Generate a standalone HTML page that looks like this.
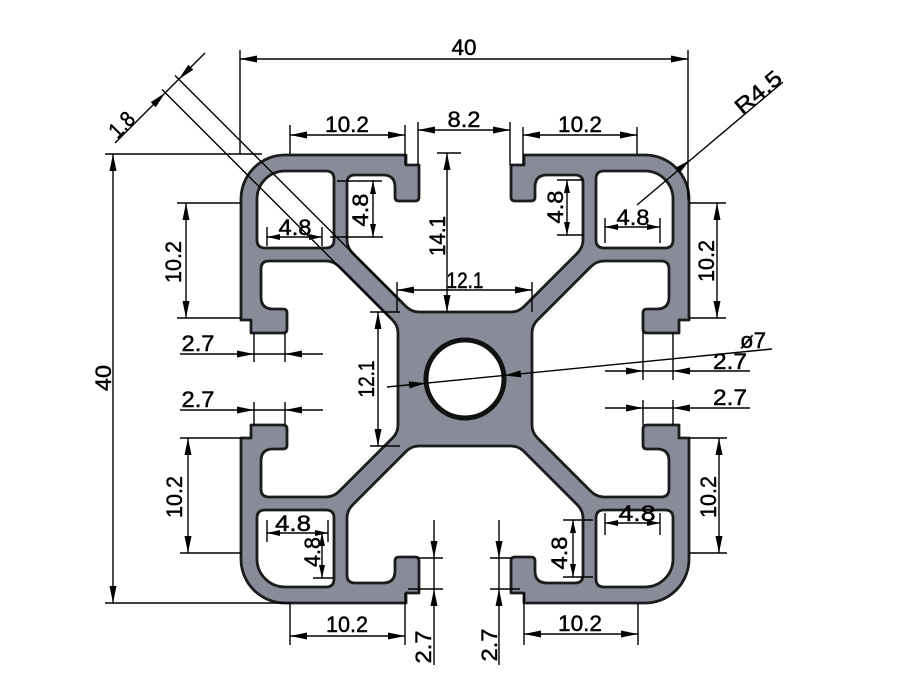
<!DOCTYPE html>
<html><head><meta charset="utf-8"><style>
html,body{margin:0;padding:0;background:#fff;}
svg{display:block;}
text{font-family:"Liberation Sans",sans-serif;font-size:22px;fill:#000;stroke:#000;stroke-width:0.45px;}
</style></head><body>
<svg width="900" height="675" viewBox="0 0 900 675" xmlns="http://www.w3.org/2000/svg">
<defs>
<path id="qf" d="M0 -67 L-46 -67 Q-53.5 -67 -59 -72.5 L-112 -125.5 Q-118 -131.5 -118 -139 L-118 -196 Q-118 -204 -110 -204 L-82 -204 Q-70 -204 -70 -192 L-70 -182 Q-70 -178 -66 -178 L-50 -178 Q-46 -178 -46 -182 L-46 -214 L-59 -214 L-59 -224 L-180 -224 A44 44 0 0 0 -224 -180 L-224 -59 L-214 -59 L-214 -46 L-182 -46 Q-178 -46 -178 -50 L-178 -66 Q-178 -70 -182 -70 L-192 -70 Q-204 -70 -204 -82 L-204 -110 Q-204 -118 -196 -118 L-139 -118 Q-131.5 -118 -125.5 -112 L-72.5 -59 Q-67 -53.5 -67 -46 L-67 0 L-67 2 L2 2 L2 -67 Z"/>
<path id="qs" d="M0 -67 L-46 -67 Q-53.5 -67 -59 -72.5 L-112 -125.5 Q-118 -131.5 -118 -139 L-118 -196 Q-118 -204 -110 -204 L-82 -204 Q-70 -204 -70 -192 L-70 -182 Q-70 -178 -66 -178 L-50 -178 Q-46 -178 -46 -182 L-46 -214 L-59 -214 L-59 -224 L-180 -224 A44 44 0 0 0 -224 -180 L-224 -59 L-214 -59 L-214 -46 L-182 -46 Q-178 -46 -178 -50 L-178 -66 Q-178 -70 -182 -70 L-192 -70 Q-204 -70 -204 -82 L-204 -110 Q-204 -118 -196 -118 L-139 -118 Q-131.5 -118 -125.5 -112 L-72.5 -59 Q-67 -53.5 -67 -46 L-67 0"/>
<path id="cav" d="M-180 -208 L-139 -208 Q-131 -208 -131 -200 L-131 -139 Q-131 -131 -139 -131 L-200 -131 Q-208 -131 -208 -139 L-208 -180 A28 28 0 0 1 -180 -208 Z"/>
<path id="a" d="M0 0L-17 -3.5L-17 3.5Z"/>
<path id="b" d="M0 0L-13 -3L-13 3Z"/>
</defs>

<!-- profile -->
<g transform="translate(465 379)">
  <g fill="#888c99">
    <use href="#qf"/>
    <use href="#qf" transform="scale(-1 1)"/>
    <use href="#qf" transform="scale(1 -1)"/>
    <use href="#qf" transform="scale(-1 -1)"/>
  </g>
  <g fill="none" stroke="#1c1c1c" stroke-width="2.8" stroke-linejoin="round">
    <use href="#qs"/>
    <use href="#qs" transform="scale(-1 1)"/>
    <use href="#qs" transform="scale(1 -1)"/>
    <use href="#qs" transform="scale(-1 -1)"/>
  </g>
  <g fill="#fff" stroke="#1c1c1c" stroke-width="2.8">
    <use href="#cav"/>
    <use href="#cav" transform="scale(-1 1)"/>
    <use href="#cav" transform="scale(1 -1)"/>
    <use href="#cav" transform="scale(-1 -1)"/>
  </g>
  <circle cx="0" cy="0" r="39" fill="#fff" stroke="#111" stroke-width="5"/>
</g>

<!-- dimension lines -->
<g stroke="#000" stroke-width="1.4" fill="none">
<path d="M240 59H688 M240 50V154 M688 50V200"/>
<path d="M113 154V603 M105 154H262 M105 603H290"/>
<path d="M175 75.5L400 300.5 M162 89.5L390 317.5 M115 143L205 53"/>
<path d="M290 135H405 M290 125V154 M405 125V165"/>
<path d="M418 130H510 M418 122V165 M510 122V165"/>
<path d="M523 135H637 M523 127V165 M637 127V154"/>
<path d="M447 153V312 M437 153H461"/>
<path d="M397 290H532 M397 282V312 M532 282V312"/>
<path d="M378 312V446 M370 312H400 M370 446H400"/>
<path d="M387 387L772 349"/>
<path d="M605 371H750 M643 332V380 M673 332V380"/>
<path d="M605 408H750 M643 400V425 M673 400V425"/>
<path d="M180 354H323 M254 333V362 M285 333V362"/>
<path d="M180 410H323 M254 402V425 M285 402V425"/>
<path d="M186 203V318 M177 203H241 M177 318H241"/>
<path d="M188 438V553 M180 438H241 M180 553H241"/>
<path d="M717 203V318 M689 203H726 M689 318H726"/>
<path d="M719 438V553 M689 438H727 M689 553H727"/>
<path d="M290 636H405 M290 603V645 M405 593V645"/>
<path d="M524 634H638 M524 593V645 M638 603V645"/>
<path d="M434 520V665 M417 558H443 M408 589H443"/>
<path d="M499 520V665 M490 558H512 M490 589H520"/>
<path d="M637 205L783 82"/>
<path d="M267 237H322 M267 227V246 M322 227V246"/>
<path d="M373 180V237 M337 181H382 M330 237H383"/>
<path d="M567 180V235 M557 180H584 M557 235H584"/>
<path d="M605 227H660 M605 218V243 M660 218V243"/>
<path d="M267 533H328 M267 520V542 M328 520V542"/>
<path d="M322 533V578 M313 578H333"/>
<path d="M605 523H660 M605 513V535 M660 513V535"/>
<path d="M573 520V577 M563 520H593 M563 577H593"/>
</g>

<!-- arrowheads -->
<g fill="#000">
<use href="#a" transform="translate(240 59) rotate(180)"/>
<use href="#a" transform="translate(688 59) rotate(0)"/>
<use href="#a" transform="translate(113 154) rotate(-90)"/>
<use href="#a" transform="translate(113 603) rotate(90)"/>
<use href="#a" transform="translate(178.75 79.25) rotate(135)"/>
<use href="#a" transform="translate(165.25 92.75) rotate(-45)"/>
<use href="#a" transform="translate(290 135) rotate(180)"/>
<use href="#a" transform="translate(405 135) rotate(0)"/>
<use href="#a" transform="translate(418 130) rotate(180)"/>
<use href="#a" transform="translate(510 130) rotate(0)"/>
<use href="#a" transform="translate(523 135) rotate(180)"/>
<use href="#a" transform="translate(637 135) rotate(0)"/>
<use href="#a" transform="translate(447 153) rotate(-90)"/>
<use href="#a" transform="translate(447 312) rotate(90)"/>
<use href="#a" transform="translate(397 290) rotate(180)"/>
<use href="#a" transform="translate(532 290) rotate(0)"/>
<use href="#a" transform="translate(378 312) rotate(-90)"/>
<use href="#a" transform="translate(378 446) rotate(90)"/>
<use href="#a" transform="translate(426 383.2) rotate(-5.6)"/>
<use href="#a" transform="translate(504 375.5) rotate(174.4)"/>
<use href="#a" transform="translate(643 371) rotate(0)"/>
<use href="#a" transform="translate(673 371) rotate(180)"/>
<use href="#a" transform="translate(643 408) rotate(0)"/>
<use href="#a" transform="translate(673 408) rotate(180)"/>
<use href="#a" transform="translate(254 354) rotate(0)"/>
<use href="#a" transform="translate(285 354) rotate(180)"/>
<use href="#a" transform="translate(254 410) rotate(0)"/>
<use href="#a" transform="translate(285 410) rotate(180)"/>
<use href="#a" transform="translate(186 203) rotate(-90)"/>
<use href="#a" transform="translate(186 318) rotate(90)"/>
<use href="#a" transform="translate(188 438) rotate(-90)"/>
<use href="#a" transform="translate(188 553) rotate(90)"/>
<use href="#a" transform="translate(717 203) rotate(-90)"/>
<use href="#a" transform="translate(717 318) rotate(90)"/>
<use href="#a" transform="translate(719 438) rotate(-90)"/>
<use href="#a" transform="translate(719 553) rotate(90)"/>
<use href="#a" transform="translate(290 636) rotate(180)"/>
<use href="#a" transform="translate(405 636) rotate(0)"/>
<use href="#a" transform="translate(524 634) rotate(180)"/>
<use href="#a" transform="translate(638 634) rotate(0)"/>
<use href="#a" transform="translate(434 558) rotate(90)"/>
<use href="#a" transform="translate(434 589) rotate(-90)"/>
<use href="#a" transform="translate(499 558) rotate(90)"/>
<use href="#a" transform="translate(499 589) rotate(-90)"/>
<use href="#a" transform="translate(690 160) rotate(-40.1)"/>
<use href="#b" transform="translate(267 237) rotate(180)"/>
<use href="#b" transform="translate(322 237) rotate(0)"/>
<use href="#b" transform="translate(373 181) rotate(-90)"/>
<use href="#b" transform="translate(373 237) rotate(90)"/>
<use href="#b" transform="translate(567 180) rotate(-90)"/>
<use href="#b" transform="translate(567 235) rotate(90)"/>
<use href="#b" transform="translate(605 227) rotate(180)"/>
<use href="#b" transform="translate(660 227) rotate(0)"/>
<use href="#b" transform="translate(267 533) rotate(180)"/>
<use href="#b" transform="translate(328 533) rotate(0)"/>
<use href="#b" transform="translate(322 533) rotate(-90)"/>
<use href="#b" transform="translate(322 578) rotate(90)"/>
<use href="#b" transform="translate(605 523) rotate(180)"/>
<use href="#b" transform="translate(660 523) rotate(0)"/>
<use href="#b" transform="translate(573 520) rotate(-90)"/>
<use href="#b" transform="translate(573 577) rotate(90)"/>
</g>

<!-- labels -->
<g text-anchor="middle">
<text x="464" y="55" textLength="25" lengthAdjust="spacingAndGlyphs">40</text>
<text transform="translate(111 378) rotate(-90)" textLength="26" lengthAdjust="spacingAndGlyphs">40</text>
<text transform="translate(127 130) rotate(-45)" textLength="27" lengthAdjust="spacingAndGlyphs">1.8</text>
<text x="347" y="132" textLength="44" lengthAdjust="spacingAndGlyphs">10.2</text>
<text x="464" y="127" textLength="33" lengthAdjust="spacingAndGlyphs">8.2</text>
<text x="580" y="132" textLength="44" lengthAdjust="spacingAndGlyphs">10.2</text>
<text transform="translate(763 98) rotate(-40)" textLength="54" lengthAdjust="spacingAndGlyphs">R4.5</text>
<text transform="translate(445 236) rotate(-90)" textLength="40" lengthAdjust="spacingAndGlyphs">14.1</text>
<text x="465" y="288" textLength="37" lengthAdjust="spacingAndGlyphs">12.1</text>
<text transform="translate(374 379) rotate(-90)" textLength="37" lengthAdjust="spacingAndGlyphs">12.1</text>
<text x="753" y="348" textLength="26" lengthAdjust="spacingAndGlyphs">ø7</text>
<text x="730" y="369" textLength="34" lengthAdjust="spacingAndGlyphs">2.7</text>
<text x="730" y="405" textLength="34" lengthAdjust="spacingAndGlyphs">2.7</text>
<text x="198" y="351" textLength="33" lengthAdjust="spacingAndGlyphs">2.7</text>
<text x="198" y="407" textLength="33" lengthAdjust="spacingAndGlyphs">2.7</text>
<text transform="translate(181 262) rotate(-90)" textLength="42" lengthAdjust="spacingAndGlyphs">10.2</text>
<text transform="translate(182 497) rotate(-90)" textLength="42" lengthAdjust="spacingAndGlyphs">10.2</text>
<text transform="translate(714 261) rotate(-90)" textLength="42" lengthAdjust="spacingAndGlyphs">10.2</text>
<text transform="translate(716 497) rotate(-90)" textLength="42" lengthAdjust="spacingAndGlyphs">10.2</text>
<text x="347" y="632" textLength="42" lengthAdjust="spacingAndGlyphs">10.2</text>
<text x="580" y="631" textLength="44" lengthAdjust="spacingAndGlyphs">10.2</text>
<text transform="translate(431 647) rotate(-90)" textLength="33" lengthAdjust="spacingAndGlyphs">2.7</text>
<text transform="translate(497 645) rotate(-90)" textLength="33" lengthAdjust="spacingAndGlyphs">2.7</text>
<text x="295" y="235" textLength="33" lengthAdjust="spacingAndGlyphs">4.8</text>
<text transform="translate(368 210) rotate(-90)" textLength="33" lengthAdjust="spacingAndGlyphs">4.8</text>
<text transform="translate(563 207) rotate(-90)" textLength="33" lengthAdjust="spacingAndGlyphs">4.8</text>
<text x="633" y="225" textLength="33" lengthAdjust="spacingAndGlyphs">4.8</text>
<text x="293" y="531" textLength="36" lengthAdjust="spacingAndGlyphs">4.8</text>
<text transform="translate(320 552) rotate(-90)" textLength="30" lengthAdjust="spacingAndGlyphs">4.8</text>
<text x="637" y="521" textLength="37" lengthAdjust="spacingAndGlyphs">4.8</text>
<text transform="translate(567 553) rotate(-90)" textLength="33" lengthAdjust="spacingAndGlyphs">4.8</text>
</g>
</svg>
</body></html>
